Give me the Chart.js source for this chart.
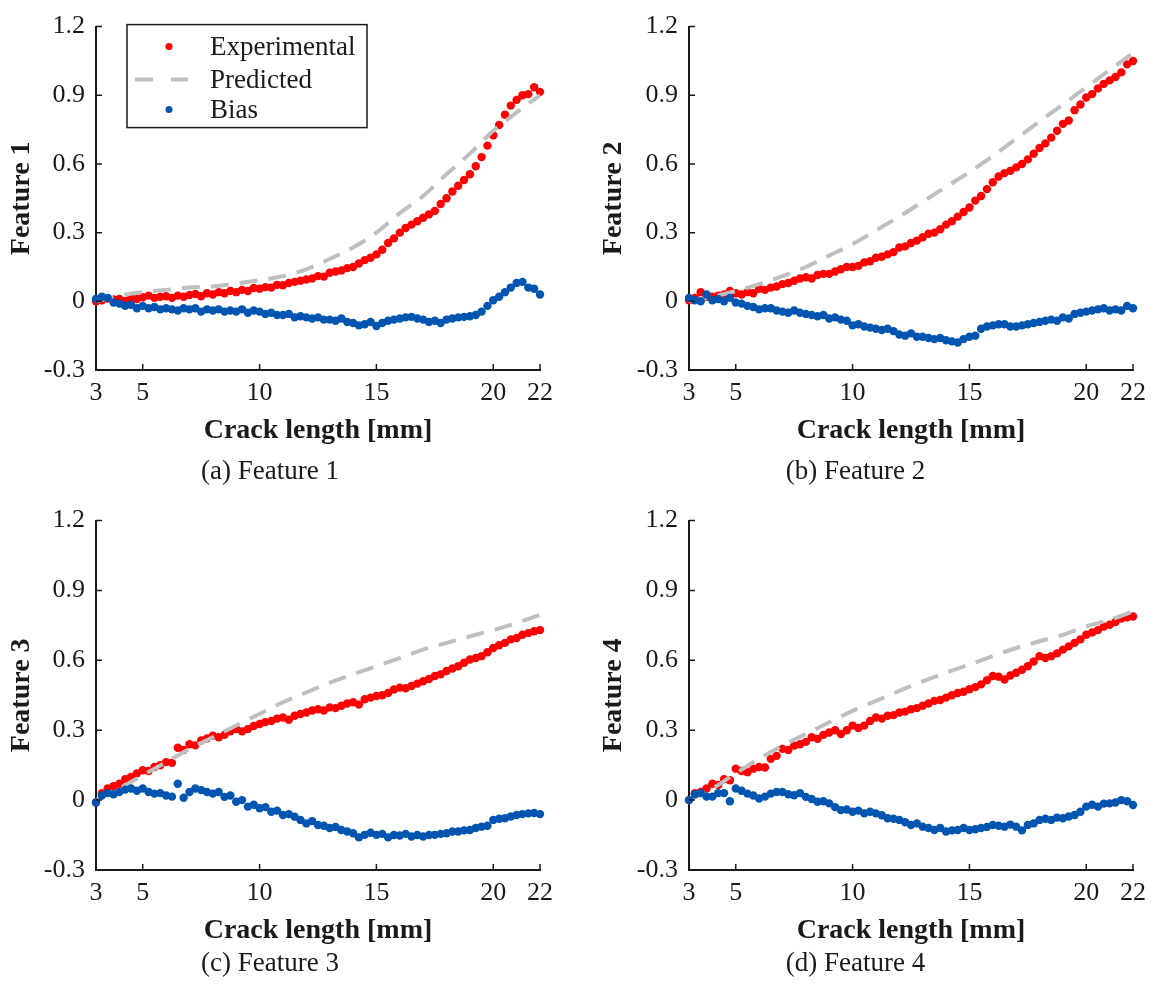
<!DOCTYPE html>
<html>
<head>
<meta charset="utf-8">
<title>Features vs crack length</title>
<script src="https://cdn.jsdelivr.net/npm/chart.js@4.4.1/dist/chart.umd.min.js"></script>
<style>
  body { margin: 0; background: #fff; }
  #wrap { position: relative; width: 1156px; height: 984px; }
  canvas { position: absolute; }
</style>
</head>
<body>
<div id="wrap">
  <canvas id="f1" width="578" height="490" style="left:0;top:0"></canvas>
  <canvas id="f2" width="578" height="490" style="left:578px;top:0"></canvas>
  <canvas id="f3" width="578" height="490" style="left:0;top:494px"></canvas>
  <canvas id="f4" width="578" height="490" style="left:578px;top:494px"></canvas>
</div>
<script>
// crack length samples for the measured points [mm]
const crackLength = [
  3, 3.25, 3.5, 3.75, 4, 4.25, 4.5, 4.75, 5, 5.25, 5.5, 5.75,
  6, 6.25, 6.5, 6.75, 7, 7.25, 7.5, 7.75, 8, 8.25, 8.5, 8.75,
  9, 9.25, 9.5, 9.75, 10, 10.25, 10.5, 10.75, 11, 11.25, 11.5, 11.75,
  12, 12.25, 12.5, 12.75, 13, 13.25, 13.5, 13.75, 14, 14.25, 14.5, 14.75,
  15, 15.25, 15.5, 15.75, 16, 16.25, 16.5, 16.75, 17, 17.25, 17.5, 17.75,
  18, 18.25, 18.5, 18.75, 19, 19.25, 19.5, 19.75, 20, 20.25, 20.5, 20.75,
  21, 21.25, 21.5, 21.75, 22
];
// crack length for the predicted curve
const predLength = [3, 4, 5, 6, 7, 8, 9, 10, 11, 12, 13, 14, 15, 16, 17, 18, 19, 20, 21, 22];

const xTicks = [3, 5, 10, 15, 20, 22];
const yTicks = [-0.3, 0, 0.3, 0.6, 0.9, 1.2];
const yTickLabels = ['-0.3', '0', '0.3', '0.6', '0.9', '1.2'];
const seriesNames = ['Experimental', 'Predicted', 'Bias'];

// Feature 1
const expF1 = [
  0.000, 0.005, 0.012, 0.008, 0.010, 0.002, 0.015, 0.010, 0.018, 0.025, 0.015, 0.020,
  0.022, 0.015, 0.025, 0.020, 0.028, 0.032, 0.022, 0.035, 0.030, 0.040, 0.035, 0.045,
  0.040, 0.050, 0.045, 0.058, 0.055, 0.062, 0.060, 0.072, 0.070, 0.080, 0.085, 0.090,
  0.095, 0.100, 0.110, 0.108, 0.125, 0.130, 0.135, 0.145, 0.150, 0.165, 0.180, 0.190,
  0.205, 0.225, 0.255, 0.275, 0.300, 0.320, 0.335, 0.350, 0.365, 0.380, 0.395, 0.425,
  0.450, 0.480, 0.505, 0.530, 0.555, 0.590, 0.630, 0.680, 0.725, 0.770, 0.815, 0.855,
  0.880, 0.900, 0.905, 0.935, 0.915
];
const biasF1 = [
  0.010, 0.020, 0.015, -0.005, -0.010, -0.020, -0.015, -0.030, -0.020, -0.030, -0.025, -0.035,
  -0.030, -0.035, -0.040, -0.030, -0.035, -0.030, -0.045, -0.035, -0.040, -0.035, -0.045, -0.040,
  -0.045, -0.035, -0.050, -0.040, -0.045, -0.055, -0.050, -0.060, -0.060, -0.055, -0.070, -0.065,
  -0.070, -0.075, -0.070, -0.080, -0.080, -0.085, -0.075, -0.090, -0.095, -0.105, -0.100, -0.090,
  -0.108, -0.095, -0.085, -0.080, -0.075, -0.070, -0.068, -0.075, -0.080, -0.090, -0.085, -0.095,
  -0.080, -0.075, -0.070, -0.068, -0.065, -0.060, -0.045, -0.020, 0.005, 0.020, 0.040, 0.060,
  0.080, 0.085, 0.060, 0.055, 0.030
];
const predF1 = [0, 0.025, 0.04, 0.05, 0.06, 0.065, 0.078, 0.092, 0.11, 0.14, 0.185, 0.235,
  0.30, 0.385, 0.46, 0.555, 0.645, 0.745, 0.825, 0.90];

// Feature 2
const expF2 = [
  0.005, 0.015, 0.040, 0.020, 0.020, 0.025, 0.030, 0.045, 0.035, 0.030, 0.040, 0.035,
  0.055, 0.050, 0.060, 0.065, 0.075, 0.080, 0.090, 0.100, 0.105, 0.100, 0.115, 0.120,
  0.120, 0.130, 0.140, 0.150, 0.150, 0.155, 0.170, 0.175, 0.190, 0.195, 0.205, 0.215,
  0.235, 0.240, 0.255, 0.265, 0.280, 0.295, 0.300, 0.315, 0.335, 0.350, 0.370, 0.390,
  0.410, 0.440, 0.460, 0.490, 0.520, 0.545, 0.560, 0.570, 0.585, 0.600, 0.620, 0.645,
  0.670, 0.690, 0.715, 0.745, 0.775, 0.790, 0.835, 0.860, 0.890, 0.905, 0.930, 0.950,
  0.965, 0.980, 1.000, 1.035, 1.050
];
const biasF2 = [
  0.015, 0.005, 0.000, 0.030, 0.005, 0.010, 0.000, 0.015, -0.005, -0.010, -0.020, -0.025,
  -0.035, -0.030, -0.030, -0.040, -0.045, -0.050, -0.040, -0.050, -0.055, -0.060, -0.065, -0.060,
  -0.075, -0.070, -0.080, -0.085, -0.105, -0.100, -0.110, -0.115, -0.120, -0.125, -0.120, -0.130,
  -0.145, -0.150, -0.140, -0.155, -0.155, -0.160, -0.165, -0.160, -0.170, -0.175, -0.180, -0.165,
  -0.155, -0.150, -0.120, -0.110, -0.105, -0.100, -0.100, -0.110, -0.110, -0.105, -0.100, -0.095,
  -0.090, -0.085, -0.080, -0.085, -0.070, -0.075, -0.055, -0.050, -0.045, -0.040, -0.035, -0.030,
  -0.040, -0.035, -0.040, -0.020, -0.030
];
const predF2 = [0, 0.02, 0.045, 0.075, 0.11, 0.15, 0.2, 0.25, 0.31, 0.37, 0.435, 0.50,
  0.565, 0.635, 0.71, 0.785, 0.86, 0.935, 1.01, 1.085];

// Feature 3
const expF3 = [
  -0.010, 0.030, 0.050, 0.060, 0.070, 0.090, 0.100, 0.115, 0.128, 0.125, 0.142, 0.150,
  0.163, 0.160, 0.225, 0.215, 0.240, 0.235, 0.256, 0.265, 0.277, 0.270, 0.280, 0.295,
  0.305, 0.295, 0.305, 0.318, 0.327, 0.335, 0.340, 0.350, 0.355, 0.345, 0.362, 0.370,
  0.376, 0.385, 0.390, 0.385, 0.398, 0.395, 0.405, 0.415, 0.420, 0.410, 0.433, 0.440,
  0.447, 0.450, 0.460, 0.475, 0.483, 0.480, 0.490, 0.500, 0.510, 0.520, 0.533, 0.540,
  0.554, 0.565, 0.575, 0.590, 0.604, 0.610, 0.618, 0.635, 0.653, 0.665, 0.675, 0.690,
  0.696, 0.710, 0.717, 0.725, 0.730
];
const biasF3 = [
  -0.010, 0.020, 0.030, 0.025, 0.035, 0.045, 0.050, 0.040, 0.050, 0.035, 0.028, 0.030,
  0.020, 0.015, 0.070, 0.010, 0.035, 0.050, 0.043, 0.035, 0.028, 0.035, 0.014, 0.020,
  -0.007, 0.000, -0.028, -0.020, -0.035, -0.030, -0.050, -0.045, -0.064, -0.060, -0.071, -0.085,
  -0.100, -0.090, -0.107, -0.110, -0.120, -0.115, -0.128, -0.135, -0.142, -0.160, -0.149, -0.140,
  -0.149, -0.145, -0.160, -0.150, -0.152, -0.145, -0.156, -0.150, -0.156, -0.150, -0.149, -0.145,
  -0.142, -0.135, -0.135, -0.130, -0.128, -0.120, -0.114, -0.110, -0.085, -0.080, -0.078, -0.070,
  -0.064, -0.060, -0.057, -0.055, -0.060
];
const predF3 = [0, 0.05, 0.107, 0.163, 0.22, 0.27, 0.32, 0.37, 0.42, 0.462, 0.504, 0.54,
  0.575, 0.61, 0.646, 0.675, 0.703, 0.73, 0.76, 0.795];

// Feature 4
const expF4 = [
  0.000, 0.030, 0.035, 0.050, 0.070, 0.065, 0.090, 0.085, 0.135, 0.125, 0.120, 0.135,
  0.142, 0.140, 0.177, 0.190, 0.220, 0.215, 0.234, 0.240, 0.250, 0.270, 0.263, 0.280,
  0.290, 0.300, 0.284, 0.300, 0.320, 0.310, 0.320, 0.340, 0.355, 0.350, 0.362, 0.365,
  0.376, 0.380, 0.390, 0.395, 0.405, 0.415, 0.426, 0.430, 0.440, 0.450, 0.460, 0.465,
  0.476, 0.485, 0.497, 0.515, 0.533, 0.530, 0.518, 0.535, 0.547, 0.560, 0.575, 0.595,
  0.618, 0.610, 0.618, 0.630, 0.646, 0.660, 0.675, 0.690, 0.710, 0.720, 0.730, 0.745,
  0.753, 0.765, 0.780, 0.785, 0.788
];
const biasF4 = [
  0.000, 0.025, 0.030, 0.015, 0.015, 0.030, 0.030, -0.005, 0.050, 0.040, 0.028, 0.020,
  0.007, 0.015, 0.028, 0.035, 0.035, 0.025, 0.021, 0.030, 0.014, 0.005, -0.007, -0.005,
  -0.014, -0.030, -0.043, -0.040, -0.050, -0.045, -0.057, -0.050, -0.057, -0.065, -0.078, -0.080,
  -0.085, -0.095, -0.107, -0.100, -0.114, -0.120, -0.128, -0.120, -0.135, -0.130, -0.128, -0.120,
  -0.128, -0.125, -0.120, -0.115, -0.107, -0.110, -0.114, -0.105, -0.114, -0.130, -0.107, -0.100,
  -0.085, -0.080, -0.085, -0.075, -0.078, -0.070, -0.064, -0.050, -0.028, -0.020, -0.028, -0.015,
  -0.014, -0.010, 0.000, -0.005, -0.021
];
const predF4 = [0, 0.05, 0.115, 0.178, 0.234, 0.284, 0.334, 0.383, 0.426, 0.469, 0.51, 0.547,
  0.582, 0.618, 0.653, 0.682, 0.71, 0.746, 0.774, 0.81];

const SERIF = "'Liberation Serif', 'Times New Roman', serif";
const INK = '#1a1a1a';
const RED = '#ff0000';
const BLUE = '#0055b0';
const GREY = '#bfbfbf';

// MATLAB style ticks pointing into the axes
const inwardTicks = {
  id: 'inwardTicks',
  afterDraw(chart) {
    const { ctx, chartArea: a, scales: { x, y } } = chart;
    ctx.save();
    ctx.strokeStyle = INK;
    ctx.lineWidth = 1.5;
    ctx.beginPath();
    x.ticks.forEach(t => {
      const px = x.getPixelForValue(t.value);
      ctx.moveTo(px, a.bottom);
      ctx.lineTo(px, a.bottom - 6);
    });
    y.ticks.forEach(t => {
      const py = y.getPixelForValue(t.value);
      ctx.moveTo(a.left, py);
      ctx.lineTo(a.left + 6, py);
    });
    ctx.stroke();
    ctx.restore();
  }
};

// boxed legend in the upper left corner of the first panel
const boxLegend = {
  id: 'boxLegend',
  afterDraw(chart, args, opts) {
    if (!opts.show) return;
    const { ctx, chartArea: a } = chart;
    const bx = a.left + 31, by = a.top - 2, bw = 240, bh = 103;
    ctx.save();
    ctx.fillStyle = '#fff';
    ctx.fillRect(bx, by, bw, bh);
    ctx.strokeStyle = INK;
    ctx.lineWidth = 1.5;
    ctx.strokeRect(bx, by, bw, bh);
    ctx.font = '27px ' + SERIF;
    ctx.fillStyle = INK;
    ctx.textBaseline = 'middle';
    const rows = [by + 22, by + 55, by + 85];
    const ds = chart.data.datasets;
    const byName = n => ds.find(d => d.label === n);
    seriesNames.forEach((name, i) => {
      const d = byName(name);
      const cy = rows[i];
      if (d.showLine) {
        ctx.strokeStyle = d.borderColor;
        ctx.lineWidth = d.borderWidth;
        ctx.beginPath();
        ctx.moveTo(bx + 8, cy); ctx.lineTo(bx + 26, cy);
        ctx.moveTo(bx + 44, cy); ctx.lineTo(bx + 61, cy);
        ctx.stroke();
      } else {
        ctx.fillStyle = d.backgroundColor;
        ctx.beginPath();
        ctx.arc(bx + 42, cy, 3.5, 0, Math.PI * 2);
        ctx.fill();
      }
      ctx.fillStyle = INK;
      ctx.fillText(name, bx + 83, cy + 1);
    });
    ctx.restore();
  }
};

function points(xs, ys) {
  return xs.map((x, i) => ({ x: x, y: ys[i] }));
}

function makePanel(id, p) {
  const W = 578, H = 490;
  const capLine = 27 * 1.2, labLine = 28 * 1.2;
  const capPadBottom = H - p.capY - capLine / 2;
  const xAxisHeight = p.capY - capLine / 2 - p.area.b;
  const xTitlePad = p.capY - capLine / 2 - labLine / 2 - p.xlabY;

  return new Chart(document.getElementById(id), {
    type: 'scatter',
    data: {
      datasets: [
        {
          label: 'Bias',
          data: points(crackLength, p.bias),
          backgroundColor: BLUE,
          pointRadius: 4.2,
          pointBorderWidth: 0,
          clip: 8,
          order: 1
        },
        {
          label: 'Predicted',
          data: points(predLength, p.pred),
          showLine: true,
          borderColor: GREY,
          borderWidth: 4,
          borderDash: [18, 11],
          pointRadius: 0,
          cubicInterpolationMode: 'monotone',
          clip: 8,
          order: 2
        },
        {
          label: 'Experimental',
          data: points(crackLength, p.exp),
          backgroundColor: RED,
          pointRadius: 4.2,
          pointBorderWidth: 0,
          clip: 8,
          order: 3
        }
      ]
    },
    options: {
      responsive: false,
      animation: false,
      layout: { padding: { left: 0, right: W - p.area.r, top: p.area.t, bottom: 0 } },
      scales: {
        x: {
          type: 'linear',
          min: 3,
          max: 22,
          afterBuildTicks: s => { s.ticks = xTicks.map(v => ({ value: v })); },
          afterFit: s => { s.height = xAxisHeight; },
          grid: { display: false, drawTicks: false },
          border: { display: true, color: INK, width: 2 },
          ticks: {
            color: INK,
            padding: 8,
            maxRotation: 0,
            font: { family: SERIF, size: 26 },
            callback: v => String(v)
          },
          title: {
            display: true,
            text: 'Crack length [mm]',
            color: INK,
            font: { family: SERIF, size: 28, weight: 'bold' },
            padding: { top: 0, bottom: xTitlePad }
          }
        },
        y: {
          type: 'linear',
          min: -0.3,
          max: 1.2,
          afterBuildTicks: s => { s.ticks = yTicks.map(v => ({ value: v })); },
          afterFit: s => { s.width = p.area.l; },
          grid: { display: false, drawTicks: false },
          border: { display: true, color: INK, width: 2 },
          ticks: {
            color: INK,
            padding: 11,
            font: { family: SERIF, size: 26 },
            callback: (v, i) => yTickLabels[i]
          },
          title: {
            display: true,
            text: p.name,
            color: INK,
            font: { family: SERIF, size: 28, weight: 'bold' },
            padding: { top: p.ylabX - labLine / 2, bottom: 0 }
          }
        }
      },
      plugins: {
        legend: { display: false },
        tooltip: { enabled: false },
        title: {
          display: true,
          position: 'bottom',
          text: p.caption,
          color: INK,
          font: { family: SERIF, size: 27, weight: 'normal' },
          padding: { top: 0, bottom: capPadBottom }
        },
        boxLegend: { show: !!p.legend }
      }
    },
    plugins: [inwardTicks, boxLegend]
  });
}

makePanel('f1', { name: 'Feature 1', caption: '(a) Feature 1', exp: expF1, bias: biasF1, pred: predF1,
  legend: true, area: { l: 96, r: 540, t: 19, b: 370 }, capY: 472, xlabY: 431, ylabX: 22 });
makePanel('f2', { name: 'Feature 2', caption: '(b) Feature 2', exp: expF2, bias: biasF2, pred: predF2,
  area: { l: 111, r: 555, t: 19, b: 370 }, capY: 472, xlabY: 431, ylabX: 36 });
makePanel('f3', { name: 'Feature 3', caption: '(c) Feature 3', exp: expF3, bias: biasF3, pred: predF3,
  area: { l: 96, r: 540, t: 23, b: 376 }, capY: 470, xlabY: 437, ylabX: 22 });
makePanel('f4', { name: 'Feature 4', caption: '(d) Feature 4', exp: expF4, bias: biasF4, pred: predF4,
  area: { l: 111, r: 555, t: 23, b: 376 }, capY: 470, xlabY: 437, ylabX: 36 });
</script>
</body>
</html>
